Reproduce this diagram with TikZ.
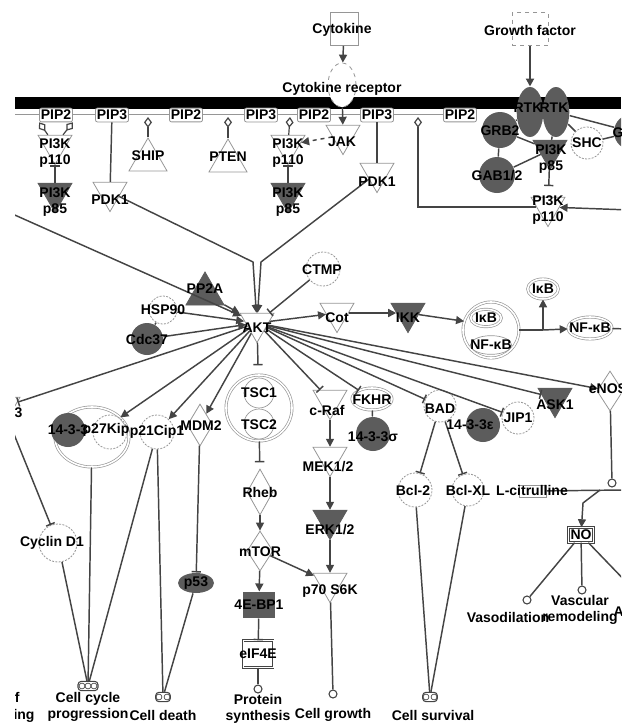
\documentclass[tikz,border=0pt]{standalone}
\usepackage{fontspec}
\setmainfont{Liberation Sans}
\usetikzlibrary{shapes.geometric,arrows.meta}

\definecolor{edgec}{RGB}{68,68,68}
\definecolor{outl}{RGB}{150,150,150}
\definecolor{darkf}{RGB}{92,92,92}

\tikzset{every picture/.style={line width=0.75pt}}
\tikzset{
  lbl/.style={font=\bfseries\fontsize{10.5}{12.5}\selectfont,inner sep=0pt,align=center},
  kin/.style={regular polygon,regular polygon sides=3,shape border rotate=180,minimum size=29.4pt,inner sep=0pt,draw=outl,line width=0.6pt},
  kind/.style={kin,fill=darkf,draw=darkf},
  phos/.style={regular polygon,regular polygon sides=3,minimum size=33pt,inner sep=0pt,draw=outl,line width=0.6pt},
  prot/.style={circle,draw=outl,line width=0.6pt,dash pattern=on 1.5pt off 1pt,inner sep=0pt,minimum size=#1},
  protd/.style={circle,fill=darkf,inner sep=0pt,minimum size=#1},
  dbl/.style={draw=outl,line width=0.5pt,double=white,double distance=1.2pt,inner sep=0pt},
  gbox/.style={rectangle,draw=outl,line width=0.6pt,inner sep=0pt},
  pip/.style={lbl,rectangle,rounded corners=1.5pt,draw=outl,fill=white,line width=0.6pt,inner xsep=1pt,inner ysep=1.5pt},
  fn/.style={circle,draw=edgec,fill=white,line width=0.8pt,minimum size=6pt,inner sep=0pt},
  fnbox/.style={rectangle,rounded corners=2.5pt,draw=edgec,fill=white,line width=0.8pt,minimum height=7pt,minimum width=#1,inner sep=0pt},
  dot/.style={draw=edgec,line width=0.5pt},
  act/.style={draw=edgec,line width=1.1pt,-{Triangle[length=6pt,width=6pt]}},
  inh/.style={draw=edgec,line width=1.1pt,-{Bar[width=7pt]}},
  cat/.style={draw=edgec,line width=0.9pt,-{Diamond[open,length=8pt,width=6pt]}},
  lnk/.style={draw=edgec,line width=1.1pt}
}

\begin{document}
\begin{tikzpicture}[x=0.75pt,y=0.75pt,yscale=-1,xscale=1]
\useasboundingbox (0,0) rectangle (627,725);
\clip (15,0) rectangle (621,722);

%Shape: Membrane
\fill [black] (15,97) rectangle (621,109);
%Straight Lines: lipid row
\draw [outl] (15,114) -- (462,114);

% PIP nodes
\draw (56,115) node [pip] (pip2a) {PIP2};
\draw (112,115) node [pip] (pip3a) {PIP3};
\draw (186,115) node [pip] (pip2b) {PIP2};
\draw (261,115) node [pip] (pip3b) {PIP3};
\draw (314,115) node [pip] (pip2c) {PIP2};
\draw (377,115) node [pip] (pip3c) {PIP3};
\draw (460,115) node [pip] (pip2d) {PIP2};
\coordinate (rx1) at (148,117);
\coordinate (rx2) at (228,117);
\coordinate (rx3) at (290,117);
\coordinate (rx4) at (418,117);

%Shape: Cytokine and receptor
\draw (344,29) node [gbox,minimum width=21pt,minimum height=24.75pt] (cyt) {};
\draw (342,85) node [ellipse,draw=outl,fill=white,dashed,line width=0.6pt,minimum width=21pt,minimum height=33pt,inner sep=0pt] (rec) {};
%Shape: Growth factor and receptors
\draw (530,29) node [gbox,dashed,minimum width=27pt,minimum height=24.75pt] (gf) {};
\draw (530,112) node [ellipse,fill=darkf,minimum width=20pt,minimum height=37.5pt,inner sep=0pt] (rtka) {};
\draw (556,112) node [ellipse,fill=darkf,minimum width=20pt,minimum height=37.5pt,inner sep=0pt] (rtkb) {};
\draw (500,130) node [protd=27pt] (grb2) {};
\draw (497,175) node [protd=27pt] (gab) {};
\draw (587,143) node [prot=24pt] (shc) {};
\draw (632,132) node [protd=27pt] (grbx) {};
\draw (550,150) node [kind] (p85r) {};
\draw (548,207) node [kin] (p110r) {};
\coordinate (rgt) at (630,210);

%Shape: PI3K and lipid enzymes
\draw (55,145) node [kin] (p110l) {};
\draw (55,193) node [kind] (p85l) {};
\draw (148,160) node [phos] (ship) {};
\draw (228,161) node [phos] (pten) {};
\draw (288,145) node [kin] (p110m) {};
\draw (288,193) node [kind] (p85m) {};
\draw (343,135) node [kin] (jak) {};
\draw (110,192) node [kin] (pdkl) {};
\draw (377,173) node [kin] (pdkr) {};

%Shape: AKT and regulators
\draw (257,323) node [kin] (akt) {};
\draw (323,269) node [prot=25.5pt] (ctmp) {};
\draw (205,294) node [phos,fill=darkf,draw=darkf] (pp2a) {};
\draw (163,310) node [prot=21pt] (hsp) {};
\draw (147,339) node [protd=24pt] (cdc) {};
\coordinate (lft) at (8,212);

%Shape: NF-kB branch
\draw (337,313) node [kin] (cot) {};
\draw (408,313) node [kind] (ikk) {};
\draw (491,330) node [circle,dbl,minimum size=42pt] (nfc) {};
\draw (486,318) node [ellipse,dbl,minimum width=23pt,minimum height=13pt] (ikba) {};
\draw (491,345) node [ellipse,draw=outl,line width=0.5pt,minimum width=31pt,minimum height=14pt,inner sep=0pt] (nfkba) {};
\draw (543,289) node [ellipse,dbl,minimum width=23pt,minimum height=15pt] (ikbb) {};
\draw (590,328) node [ellipse,dbl,minimum width=33pt,minimum height=16.5pt] (nfkbb) {};
\coordinate (j1) at (543,330);
\coordinate (nfr) at (630,329);

%Shape: mTOR branch
\draw (259,408) node [circle,dbl,minimum size=49.5pt] (tsc) {};
\draw (259,393) node [circle,draw=outl,line width=0.5pt,minimum size=22.5pt,inner sep=0pt] (tsca) {};
\draw (259,424) node [circle,draw=outl,line width=0.5pt,minimum size=22.5pt,inner sep=0pt] (tscb) {};
\draw (260,492) node [diamond,draw=outl,line width=0.6pt,minimum width=19.5pt,minimum height=34.5pt,inner sep=0pt] (rheb) {};
\draw (260,551) node [diamond,draw=outl,line width=0.6pt,minimum width=19.5pt,minimum height=30pt,inner sep=0pt] (mtor) {};
\draw (259,605) node [rectangle,fill=darkf,minimum width=24pt,minimum height=19.5pt,inner sep=0pt] (ebp) {};
\draw (258,654) node [gbox,double,draw=edgec,minimum width=22.5pt,minimum height=20pt] (eif) {};
\draw (258,689) node [fn] (fprot) {};

%Shape: MAPK branch
\draw (330,400) node [kin] (craf) {};
\draw (372,399) node [ellipse,dbl,minimum width=30pt,minimum height=16.5pt] (fkhr) {};
\draw (373,434) node [protd=25.5pt] (ssig) {};
\draw (330,457) node [kin] (mek) {};
\draw (330,520) node [kind] (erk) {};
\draw (330,583) node [kin] (p70) {};
\draw (333,694) node [fn] (fgrow) {};

%Shape: survival branch
\draw (440,406) node [prot=24pt] (bad) {};
\draw (483,425) node [protd=25.5pt] (seps) {};
\draw (518,418) node [prot=24pt] (jip) {};
\draw (555,398) node [kind] (ask) {};
\draw (610,391) node [diamond,draw=outl,line width=0.6pt,minimum width=19.5pt,minimum height=30pt,inner sep=0pt] (enos) {};
\draw (415,490) node [prot=25.5pt] (bcla) {};
\draw (468,490) node [prot=24pt] (bclb) {};
\draw (533,491) node [gbox,minimum width=20pt,minimum height=9pt] (lcit) {};
\draw (612,483) node [fn] (jc) {};
\draw (581,535) node [gbox,double,draw=edgec,minimum width=19pt,minimum height=11pt] (no) {};
\draw (527,600) node [fn] (fvaso) {};
\draw (582,590) node [fn] (fvasc) {};
\draw (430,697) node [fnbox=11pt] (fsurv) {};
\draw [dot] (426,697) circle [radius=2.2pt] (434,697) circle [radius=2.2pt];
\coordinate (jb) at (600,490);
\coordinate (rx5) at (625,490);
\coordinate (nor) at (632,588);

%Shape: cell cycle branch
\draw (92,437) node [ellipse,dbl,minimum width=55.5pt,minimum height=45pt] (cx) {};
\draw (68,430) node [protd=25.5pt] (sl) {};
\draw (110,432) node [prot=25.5pt] (p27) {};
\draw (157,432) node [prot=25.5pt] (p21) {};
\draw (200,425) node [diamond,draw=outl,line width=0.6pt,minimum width=19pt,minimum height=31.5pt,inner sep=0pt] (mdm) {};
\draw (196,583) node [ellipse,fill=darkf,minimum width=27pt,minimum height=15pt,inner sep=0pt] (p53) {};
\draw (58,543) node [prot=28.5pt] (cyc) {};
\draw (3,407) node [kin] (gsk) {};
\draw (88,686) node [fnbox=15pt] (fcc) {};
\draw [dot] (82,686) circle [radius=2.2pt] (88,686) circle [radius=2.2pt] (94,686) circle [radius=2.2pt];
\draw (163,697) node [fnbox=11pt] (fdth) {};
\draw [dot] (159,697) circle [radius=2.2pt] (167,697) circle [radius=2.2pt];

%Straight Lines: top
\draw [act] (cyt) -- (rec);
\draw [act] (rec) -- (jak);
\draw [act,dashed] (jak) -- (p110m);
\draw [act,line width=1.5pt] (gf) -- (rtka);
\draw [lnk] (rtka) -- (grb2);
\draw [lnk] (rtkb) -- (p85r);
\draw [lnk] (grb2) -- (p85r);
\draw [lnk] (gab) -- (p85r);
\draw [lnk] (grb2) -- (gab);
\draw [lnk] (rtkb) -- (shc);
\draw [lnk] (rtkb) -- (grbx);
\draw [lnk] (shc) -- (grbx);
\draw [inh,shorten >=8pt] (p85r) -- (p110r);
\draw [cat] (p110r.west) -| (rx4);
\draw [act] (rgt) -- (p110r);
\draw [cat] (p110l) -- (pip2a.south west);
\draw [cat] (p110l) -- (pip2a.south east);
\draw [inh] (p85l) -- (p110l);
\draw [inh] (p85m) -- (p110m);
\draw [cat] (ship) -- (rx1);
\draw [cat] (pten) -- (rx2);
\draw [cat] (p110m) -- (rx3);
\draw [lnk] (pip3a) -- (pdkl);
\draw [lnk] (pip3c) -- (pdkr);

%Straight Lines: into AKT
\draw [act] (pdkl) -- (253,262) -- (akt);
\draw [act] (pdkr) -- (261,262) -- (akt);
\draw [act] (lft) -- (akt);
\draw [inh] (ctmp) -- (akt);
\draw [act] (pp2a) -- (akt);
\draw [act] (hsp) -- (akt);
\draw [act] (cdc) -- (akt);
\draw [lnk] (hsp) -- (cdc);

%Straight Lines: out of AKT
\draw [act] (akt) -- (cot);
\draw [act] (cot) -- (ikk);
\draw [act] (ikk) -- (nfc.162);
\draw [lnk] (nfc) -- (j1);
\draw [act] (j1) -- (ikbb);
\draw [act] (j1) -- (nfkbb);
\draw [lnk] (nfkbb) -- (nfr);
\draw [inh,shorten >=7pt] (akt) -- (tsc);
\draw [inh,shorten >=5pt] (tsc) -- (rheb);
\draw [act] (rheb) -- (mtor);
\draw [act] (mtor) -- (ebp);
\draw [inh] (ebp) -- (eif);
\draw [lnk] (eif) -- (fprot);
\draw [act] (mtor) -- (p70);
\draw [inh] (akt) -- (craf);
\draw [act] (craf) -- (mek);
\draw [act] (mek) -- (erk);
\draw [act] (erk) -- (p70);
\draw [lnk] (p70) -- (fgrow);
\draw [inh] (akt) -- (fkhr);
\draw [lnk] (fkhr) -- (ssig);
\draw [inh] (akt) -- (bad);
\draw [inh] (akt) -- (jip);
\draw [inh] (akt) -- (ask);
\draw [act] (akt) -- (enos);
\draw [inh] (bad) -- (bcla);
\draw [inh] (bad) -- (bclb);
\draw [lnk] (bcla) -- (fsurv);
\draw [lnk] (bclb) -- (fsurv);
\draw [lnk] (enos) -- (jc);
\draw [lnk] (lcit) -- (rx5);
\draw [act] (jb) -- (583,503) -- (no);
\draw [lnk] (no) -- (fvaso);
\draw [lnk] (no) -- (fvasc);
\draw [lnk] (no) -- (nor);
\draw [inh] (akt) -- (gsk);
\draw [inh] (gsk) -- (cyc);
\draw [act] (akt) -- (cx);
\draw [act] (akt) -- (p21);
\draw [act] (akt) -- (mdm);
\draw [inh] (mdm) -- (p53);
\draw [lnk] (cyc) -- (fcc);
\draw [lnk] (cx) -- (fcc);
\draw [lnk] (p21) -- (fcc);
\draw [lnk] (p21) -- (fdth);
\draw [lnk] (p53) -- (fdth);

% Text Node
\draw (342,30) node [lbl] (cytt) {Cytokine};
\draw (342,89) node [lbl] (rect) {Cytokine receptor};
\draw (530,30) node [lbl] (gft) {Growth factor};
\draw (528,108) node [lbl] (rtkat) {RTK};
\draw (554,108) node [lbl] (rtkbt) {RTK};
\draw (500,131) node [lbl] (grb2t) {GRB2};
\draw (497,176) node [lbl] (gabt) {GAB1/2};
\draw (587,143) node [lbl] (shct) {SHC};
\draw (632,133) node [lbl] (grbxt) {GRB2};
\draw (551,159) node [lbl] (p85rt) {PI3K\\p85};
\draw (548,210) node [lbl] (p110rt) {PI3K\\p110};
\draw (55,153) node [lbl] (p110lt) {PI3K\\p110};
\draw (55,202) node [lbl] (p85lt) {PI3K\\p85};
\draw (148,156) node [lbl] (shipt) {SHIP};
\draw (228,157) node [lbl] (ptent) {PTEN};
\draw (288,153) node [lbl] (p110mt) {PI3K\\p110};
\draw (288,202) node [lbl] (p85mt) {PI3K\\p85};
\draw (342,142) node [lbl] (jakt) {JAK};
\draw (110,200) node [lbl] (pdklt) {PDK1};
\draw (377,182) node [lbl] (pdkrt) {PDK1};
\draw (257,328) node [lbl] (aktt) {AKT};
\draw (322,270) node [lbl] (ctmpt) {CTMP};
\draw (205,289) node [lbl] (pp2at) {PP2A};
\draw (163,310) node [lbl] (hspt) {HSP90};
\draw (147,340) node [lbl] (cdct) {Cdc37};
\draw (337,318) node [lbl] (cott) {Cot};
\draw (408,318) node [lbl] (ikkt) {IKK};
\draw (486,318) node [lbl] (ikbat) {IκB};
\draw (491,345) node [lbl] (nfkbat) {NF-κB};
\draw (543,289) node [lbl] (ikbbt) {IκB};
\draw (590,328) node [lbl] (nfkbbt) {NF-κB};
\draw (259,393) node [lbl] (tscat) {TSC1};
\draw (259,425) node [lbl] (tscbt) {TSC2};
\draw (260,492) node [lbl] (rhebt) {Rheb};
\draw (260,552) node [lbl] (mtort) {mTOR};
\draw (259,605) node [lbl] (ebpt) {4E-BP1};
\draw (258,654) node [lbl] (eift) {eIF4E};
\draw (258,709) node [lbl] (fprott) {Protein\\synthesis};
\draw (327,410) node [lbl] (craft) {c-Raf};
\draw (372,400) node [lbl] (fkhrt) {FKHR};
\draw (373,437) node [lbl] (ssigt) {14-3-3σ};
\draw (328,467) node [lbl] (mekt) {MEK1/2};
\draw (330,530) node [lbl] (erkt) {ERK1/2};
\draw (330,591) node [lbl] (p70t) {p70 S6K};
\draw (333,715) node [lbl] (fgrowt) {Cell growth};
\draw (440,409) node [lbl] (badt) {BAD};
\draw (470,425) node [lbl] (sepst) {14-3-3ε};
\draw (518,418) node [lbl] (jipt) {JIP1};
\draw (555,405) node [lbl] (askt) {ASK1};
\draw (608,389) node [lbl] (enost) {eNOS};
\draw (413,490) node [lbl] (bclat) {Bcl-2};
\draw (468,490) node [lbl] (bclbt) {Bcl-XL};
\draw (532,490) node [lbl] (lcitt) {L-citrulline};
\draw (581,535) node [lbl] (not) {NO};
\draw (508,617) node [lbl] (fvasot) {Vasodilation};
\draw (580,610) node [lbl] (fvasct) {Vascular\\remodeling};
\draw (613,613) node [lbl,anchor=west] (angt) {Angiogenesis};
\draw (433,715) node [lbl] (fsurvt) {Cell survival};
\draw (68,430) node [lbl] (slt) {14-3-3};
\draw (106,430) node [lbl] (p27t) {p27Kip};
\draw (157,432) node [lbl] (p21t) {p21Cip1};
\draw (201,426) node [lbl] (mdmt) {MDM2};
\draw (196,583) node [lbl] (p53t) {p53};
\draw (52,543) node [lbl] (cyct) {Cyclin D1};
\draw (23,413) node [lbl,anchor=east] (gskt) {GSK3};
\draw (88,707) node [lbl] (fcct) {Cell cycle\\progression};
\draw (163,715) node [lbl] (fdtht) {Cell death};
\draw (20,699) node [lbl,anchor=east] (fla) {Regulation of};
\draw (35,716) node [lbl,anchor=east] (flb) {signaling};

\end{tikzpicture}
\end{document}
